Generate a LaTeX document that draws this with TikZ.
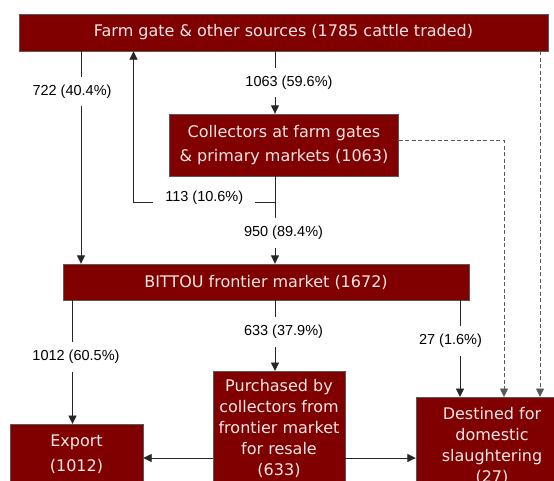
\documentclass[tikz,border=0pt]{standalone}
\usepackage{fontspec}
\setmainfont{Liberation Sans}
\newfontfamily\boxfont{DejaVu Sans}
\usetikzlibrary{arrows.meta,positioning}
\definecolor{maroon}{HTML}{800000}
\definecolor{boxtext}{HTML}{F4E6E6}
\tikzset{
    %Define standard arrow tip
    >={Triangle[length=8.5pt,width=8pt]},
    %Define style for boxes
    market/.style={
           rectangle,
           draw=black!65, thin,
           fill=maroon,
           text=boxtext,
           inner sep=0pt,
           font=\boxfont\fontsize{16}{21}\selectfont,
           align=center},
    % Define style for the cattle counts
    count/.style={
           fill=white,
           inner xsep=12pt,
           inner ysep=8pt,
           font=\fontsize{14.5}{17}\selectfont,
           text=black},
    % Define arrow styles
    flow/.style={
           ->,
           black!85,
           line width=0.9pt},
    direct/.style={
           ->,
           black!65,
           line width=0.8pt,
           dash pattern=on 4pt off 2.5pt}
}

\begin{document}
\begin{tikzpicture}[x=1pt,y=-1pt]
\useasboundingbox (0,0) rectangle (554,480);
\clip (0,0) rectangle (554,480);

\node[market, minimum width=529pt, minimum height=37pt] (src) at (283.5,32.5) {Farm gate \& other sources (1785 cattle traded)};
\node[market, minimum width=229pt, minimum height=62pt] (coll) at (284,145) {Collectors at farm gates\\[3pt] \& primary markets (1063)};
\node[market, minimum width=406pt, minimum height=36pt] (bittou) at (266,282) {BITTOU frontier market (1672)};
\node[market, minimum width=133pt, minimum height=61pt, anchor=north] (export) at (76.5,424) {Export\\[4pt] (1012)};
\node[market, minimum width=132pt, minimum height=115pt, anchor=north] (resale) at (279,371) {Purchased by\\collectors from\\frontier market\\for resale\\(633)};
\node[market, minimum width=152pt, minimum height=97pt, anchor=north] (domestic) at (492,397) {Destined for\\domestic\\slaughtering\\(27)};

% columns of the flows
\coordinate (xa) at (81,0);
\coordinate (xb) at (133.5,0);
\coordinate (xc) at (275,0);
\coordinate (xd) at (72.5,0);
\coordinate (xe) at (460,0);
\coordinate (xf) at (504,0);
\coordinate (xg) at (540,0);
\coordinate (split) at (275,202);
\coordinate (side) at (0,458);

% farm gate sources
\draw[flow] (src.south -| xa) -- node[count, pos=.19, xshift=-9pt]{722 (40.4\%)} (bittou.north -| xa);
\draw[flow] (src.south -| xc) -- node[count, xshift=14pt]{1063 (59.6\%)} (coll.north -| xc);

% collectors
\draw[flow] (coll.south -| xc) -- node[count, pos=.65, xshift=8.5pt]{950 (89.4\%)} (bittou.north -| xc);
\draw[flow] (split) -- node[count, yshift=4pt]{113 (10.6\%)} (split -| xb) -- (src.south -| xb);

% frontier market
\draw[flow] (bittou.south -| xd) -- node[count, pos=.46, xshift=3.5pt]{1012 (60.5\%)} (export.north -| xd);
\draw[flow] (bittou.south -| xc) -- node[count, pos=.45, xshift=8.5pt]{633 (37.9\%)} (resale.north -| xc);
\draw[flow] (bittou.south -| xe) -- node[count, pos=.42, xshift=-9.5pt]{27 (1.6\%)} (domestic.north -| xe);

% resale
\draw[flow] (resale.west |- side) -- (export.east |- side);
\draw[flow] (resale.east |- side) -- (domestic.west |- side);

% straight to slaughter
\draw[direct] ([yshift=4.3pt]coll.east) -| (domestic.north -| xf);
\draw[direct] (src.south -| xg) -- (domestic.north -| xg);

\end{tikzpicture}
\end{document}
